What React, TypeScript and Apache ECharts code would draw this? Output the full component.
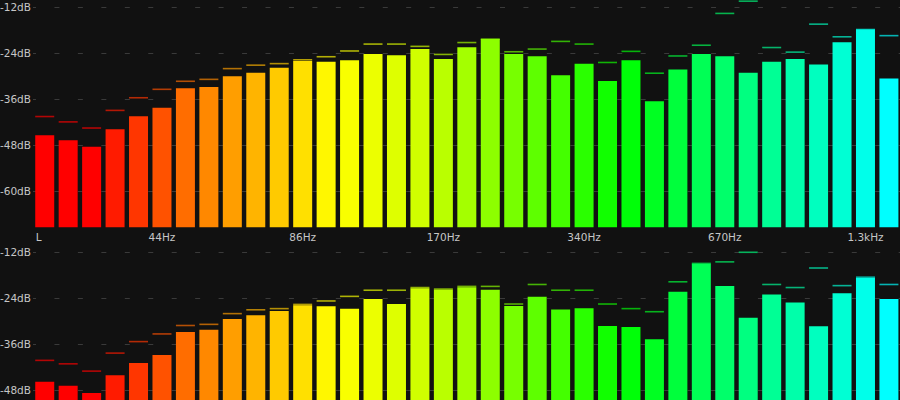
import React, { useEffect, useRef } from 'react';
import * as echarts from 'echarts';

// Band tick labels (1/6-octave bands, only some labelled)
const TICK_LABELS = [
  'L', '', '', '', '', '44Hz', '', '', '', '', '', '86Hz', '', '', '', '', '', '170Hz', '', '',
  '', '', '', '340Hz', '', '', '', '', '', '670Hz', '', '', '', '', '', '1.3kHz', '',
];

// Upper channel: current level and peak hold (dB)
const TOP_LEVELS = [
  -45.5, -46.8, -48.5, -43.9, -40.5, -38.3, -33.2, -32.9, -30.1, -29.2, -27.9, -26.1, -26.3,
  -25.9, -24.3, -24.6, -23.0, -25.6, -22.5, -20.4, -24.3, -24.9, -29.8, -26.8, -31.3, -25.9,
  -36.6, -28.3, -24.3, -24.9, -29.2, -26.3, -25.6, -27.0, -21.2, -17.9, -30.7,
];
const TOP_PEAKS = [
  -40.6, -42.0, -43.6, -39.0, -35.7, -33.5, -31.4, -30.9, -28.1, -27.2, -26.8, -25.8, -25.0,
  -23.5, -21.7, -21.7, -22.3, -24.4, -21.3, -20.4, -23.7, -23.0, -21.0, -21.7, -26.5, -23.6,
  -29.3, -24.8, -22.0, -13.7, -10.5, -22.6, -23.8, -16.5, -19.8, -17.9, -19.5,
];

// Lower channel
const BOTTOM_LEVELS = [
  -45.9, -46.9, -48.8, -44.2, -41.0, -38.9, -32.9, -32.3, -29.5, -28.5, -27.4, -25.9, -26.2,
  -26.8, -24.3, -25.6, -21.5, -21.9, -21.2, -21.9, -26.1, -23.7, -27.0, -26.7, -31.3, -31.6,
  -34.8, -22.4, -15.1, -20.9, -29.2, -23.1, -25.2, -31.4, -22.8, -18.8, -24.3,
];
const BOTTOM_PEAKS = [
  -40.3, -41.2, -43.1, -38.4, -35.4, -33.4, -31.2, -30.9, -28.1, -27.1, -26.8, -25.7, -24.8,
  -23.6, -22.0, -22.0, -21.3, -21.7, -21.0, -21.0, -25.6, -20.5, -22.0, -22.0, -25.6, -26.8,
  -27.6, -19.8, -15.0, -14.6, -12.1, -20.5, -21.3, -16.2, -20.8, -18.6, -20.5,
];

// Meter floor (bar base) and axis range, in dB
const FLOOR = -69.5;
const AXIS_MIN = -72;
const AXIS_MAX = -10.2;
const STEP = 12;

// Hue stops (style): band index -> hue
const HUE_STOPS: [number, number][] = [
  [0, 0], [2, 0], [7, 32], [12, 58], [16, 71], [20, 92], [24, 116], [28, 140], [30, 150], [36, 180],
];
function hueAt(i: number): number {
  for (let k = 1; k < HUE_STOPS.length; k++) {
    const [i1, h1] = HUE_STOPS[k];
    const [i0, h0] = HUE_STOPS[k - 1];
    if (i <= i1) return h0 + ((i - i0) / (i1 - i0)) * (h1 - h0);
  }
  return 180;
}
function barColor(i: number, a = 1): string {
  return `hsla(${hueAt(i).toFixed(1)}, 100%, 50%, ${a})`;
}

const LABEL_COLOR = '#c6c6c6';
const FONT = 'DejaVu Sans';
const FONT_SIZE = 10.5;
const GRID_H = 236.9;
const PITCH = 23.45;
const GRID_W = PITCH * TICK_LABELS.length;
const BAR_W = 19;

export default function App() {
  const ref = useRef<HTMLDivElement>(null);
  useEffect(() => {
    if (!ref.current) return;
    const chart = echarts.init(ref.current, null, { renderer: 'svg' });
    const toV = (v: number) => +(v - FLOOR).toFixed(3);

    // lowestShown: labels below this dB value fall outside the visible page
    const yAxis = (gridIndex: number, lowestShown: number) => ({
      type: 'value',
      gridIndex,
      min: AXIS_MIN - FLOOR,
      max: AXIS_MAX - FLOOR,
      interval: STEP,
      axisLine: { show: false },
      axisTick: { show: false },
      axisLabel: {
        show: true,
        color: LABEL_COLOR,
        fontFamily: FONT,
        fontSize: FONT_SIZE,
        margin: 2,
        showMinLabel: false,
        showMaxLabel: false,
        formatter: (v: number) => {
          const db = Math.round(v + FLOOR);
          return db < lowestShown ? '' : `${db}dB`;
        },
      },
      splitLine: {
        show: true,
        showMinLine: false,
        showMaxLine: false,
        lineStyle: { color: '#3a3a3a', width: 1, type: [5, PITCH - 5], dashOffset: 1.9 },
      },
    });

    const xAxis = (gridIndex: number, showLabels: boolean) => ({
      type: 'category',
      gridIndex,
      data: TICK_LABELS,
      axisLine: { show: false },
      axisTick: { show: false },
      splitLine: { show: false },
      axisLabel: {
        show: showLabels,
        interval: 0,
        color: LABEL_COLOR,
        fontFamily: FONT,
        fontSize: FONT_SIZE,
        margin: 0,
        verticalAlign: 'middle',
        formatter: (v: string, i: number) => (i === 0 ? `{l|${v}}` : v),
        rich: {
          l: {
            color: LABEL_COLOR,
            fontFamily: FONT,
            fontSize: FONT_SIZE,
            padding: [0, 12, 0, 0],
          },
        },
      },
    });

    const barSeries = (idx: number, levels: number[]) => ({
      type: 'bar',
      xAxisIndex: idx,
      yAxisIndex: idx,
      barWidth: BAR_W,
      silent: true,
      data: levels.map(toV),
      itemStyle: { color: (p: any) => barColor(p.dataIndex) },
      z: 2,
    });
    const peakSeries = (idx: number, peaks: number[]) => ({
      type: 'scatter',
      xAxisIndex: idx,
      yAxisIndex: idx,
      symbol: 'rect',
      symbolSize: [BAR_W, 1.6],
      silent: true,
      data: peaks.map(toV),
      itemStyle: { color: (p: any) => barColor(p.dataIndex, 0.85) },
      z: 3,
    });

    chart.setOption({
      animation: false,
      backgroundColor: '#111111',
      grid: [
        { left: 33, top: 0, width: GRID_W, height: GRID_H, outerBoundsMode: 'none', containLabel: false },
        { left: 33, top: 245, width: GRID_W, height: GRID_H, outerBoundsMode: 'none', containLabel: false },
      ],
      xAxis: [xAxis(0, true), xAxis(1, false)],
      yAxis: [yAxis(0, -100), yAxis(1, -50)],
      series: [
        barSeries(0, TOP_LEVELS),
        peakSeries(0, TOP_PEAKS),
        barSeries(1, BOTTOM_LEVELS),
        peakSeries(1, BOTTOM_PEAKS),
      ],
    });
    return () => chart.dispose();
  }, []);

  return (
    <div
      ref={ref}
      style={{ position: 'fixed', left: 0, top: 0, width: 900, height: 400, background: '#111111' }}
    />
  );
}
